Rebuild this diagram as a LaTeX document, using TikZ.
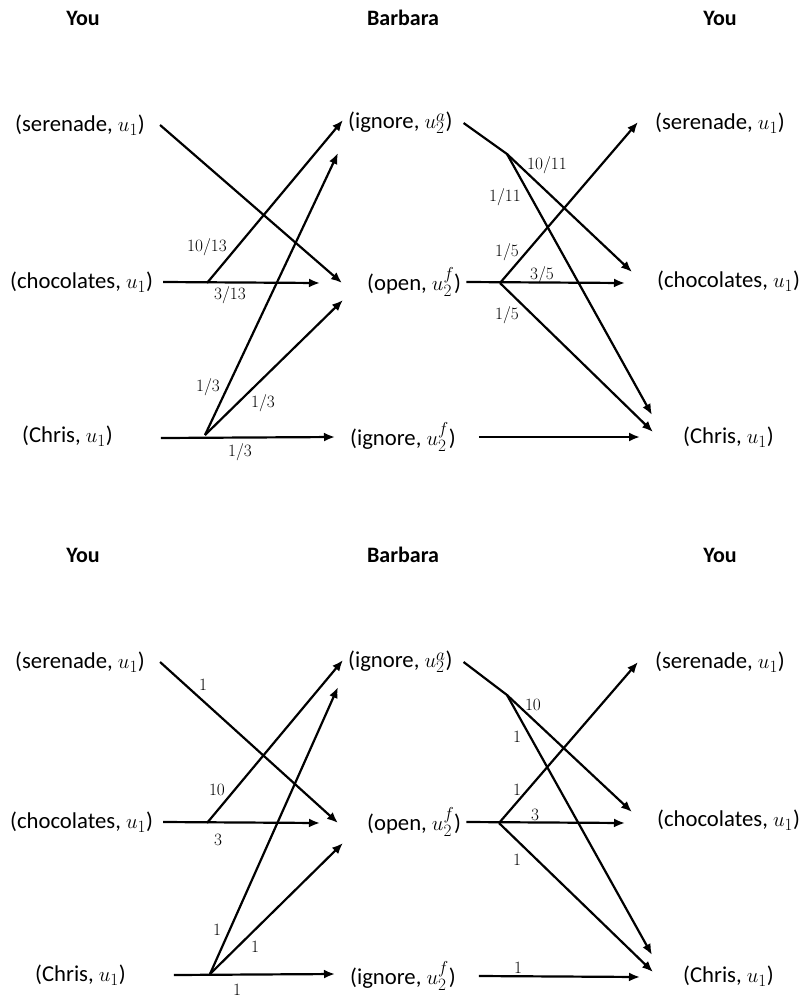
\documentclass[tikz,border=0pt]{standalone}
\usepackage{fontspec}
\setmainfont{Carlito}
\usepackage{tikz}
\usetikzlibrary{arrows.meta,positioning,calc}

\begin{document}
\begin{tikzpicture}[
  x=1pt,y=-1pt,
  state/.style={inner sep=0pt,anchor=west,font=\fontsize{22.7}{26}\selectfont},
  head/.style={inner sep=0pt,font=\fontsize{22}{26}\selectfont\bfseries},
  wt/.style={inner sep=0pt,font=\fontsize{17.5}{20}\selectfont},
  arrow/.style={-{Latex[length=11pt,width=9pt]},line width=2.2pt,black}
]
  \useasboundingbox (0,0) rectangle (806,997);

  % ===== Top panel =====
  \node[head] (you1) at (83,18) {You};
  \node[head] (barb1) at (403,18) {Barbara};
  \node[head] (you2) at (720,18) {You};

  % You (left)
  \node[state] (ls1) at (15,125) {(serenade, $u_1$)};
  \node[state] (lc1) at (10,282) {(chocolates, $u_1$)};
  \node[state] (lh1) at (22,436) {(Chris, $u_1$)};
  % Barbara
  \node[state] (mi1) at (348,123) {(ignore, $u_2^a$)};
  \node[state] (mo1) at (367,282) {(open, $u_2^f$)};
  \node[state] (mf1) at (350,437) {(ignore, $u_2^f$)};
  % You (right)
  \node[state] (rs1) at (655,123) {(serenade, $u_1$)};
  \node[state] (rc1) at (657,281) {(chocolates, $u_1$)};
  \node[state] (rh1) at (683,437) {(Chris, $u_1$)};

  % branch points and tips
  \coordinate (cb1) at (207,283);
  \coordinate (hb1) at (205,435);
  \coordinate (ab1) at (507,154);
  \coordinate (ob1) at (500,283);
  \coordinate (so1) at (342,283);
  \coordinate (cc1) at (320,283);
  \coordinate (ci1) at (343,120);
  \coordinate (hh1) at (335,437);
  \coordinate (hi1) at (338,153);
  \coordinate (ho1) at (343,300);
  \coordinate (ac1) at (632,272);
  \coordinate (ah1) at (652,415);
  \coordinate (oo1) at (625,283);
  \coordinate (os1) at (638,122);
  \coordinate (oh1) at (653,432);
  \coordinate (ff1) at (640,437);

  \draw[arrow] ([xshift=15pt]ls1.east) -- (so1);
  \draw[arrow] ([xshift=10pt]lc1.east) -- (cc1);
  \draw[arrow] (cb1) -- (ci1);
  \draw[arrow] ([xshift=48pt,yshift=-2pt]lh1.east) -- (hh1);
  \draw[arrow] (hb1) -- (hi1);
  \draw[arrow] (hb1) -- (ho1);

  \draw[arrow] ([xshift=11pt]mi1.east) -- (ab1) -- (ac1);
  \draw[arrow] (ab1) -- (ah1);
  \draw[arrow] ([xshift=5pt]mo1.east) -- (oo1);
  \draw[arrow] (ob1) -- (os1);
  \draw[arrow] (ob1) -- (oh1);
  \draw[arrow] ([xshift=23pt]mf1.east) -- (ff1);

  % weights
  \node[wt] (w1) at (207,247) {$10/13$};
  \node[wt] (w2) at (230,295) {$3/13$};
  \node[wt] (w3) at (208,387) {$1/3$};
  \node[wt] (w4) at (263,403) {$1/3$};
  \node[wt] (w5) at (240,452) {$1/3$};
  \node[wt] (w6) at (547,165) {$10/11$};
  \node[wt] (w7) at (505,197) {$1/11$};
  \node[wt] (w8) at (507,252) {$1/5$};
  \node[wt] (w9) at (542,275) {$3/5$};
  \node[wt] (w10) at (507,315) {$1/5$};

  % ===== Bottom panel =====
  \node[head] (you3) at (83,555) {You};
  \node[head] (barb2) at (403,555) {Barbara};
  \node[head] (you4) at (720,555) {You};

  % You (left)
  \node[state] (ls2) at (15,662) {(serenade, $u_1$)};
  \node[state] (lc2) at (10,822) {(chocolates, $u_1$)};
  \node[state] (lh2) at (35,975) {(Chris, $u_1$)};
  % Barbara
  \node[state] (mi2) at (348,662) {(ignore, $u_2^a$)};
  \node[state] (mo2) at (367,822) {(open, $u_2^f$)};
  \node[state] (mf2) at (350,976) {(ignore, $u_2^f$)};
  % You (right)
  \node[state] (rs2) at (655,662) {(serenade, $u_1$)};
  \node[state] (rc2) at (657,820) {(chocolates, $u_1$)};
  \node[state] (rh2) at (683,976) {(Chris, $u_1$)};

  % branch points and tips
  \coordinate (cb2) at (207,823);
  \coordinate (hb2) at (210,974);
  \coordinate (ab2) at (507,695);
  \coordinate (ob2) at (499,823);
  \coordinate (so2) at (338,823);
  \coordinate (cc2) at (320,823);
  \coordinate (ci2) at (343,660);
  \coordinate (hh2) at (335,974);
  \coordinate (hi2) at (338,687);
  \coordinate (ho2) at (343,843);
  \coordinate (ac2) at (632,812);
  \coordinate (ah2) at (652,955);
  \coordinate (oo2) at (625,823);
  \coordinate (os2) at (638,662);
  \coordinate (oh2) at (653,972);
  \coordinate (ff2) at (640,977);

  \draw[arrow] ([xshift=15pt]ls2.east) -- (so2);
  \draw[arrow] ([xshift=10pt]lc2.east) -- (cc2);
  \draw[arrow] (cb2) -- (ci2);
  \draw[arrow] ([xshift=48pt]lh2.east) -- (hh2);
  \draw[arrow] (hb2) -- (hi2);
  \draw[arrow] (hb2) -- (ho2);

  \draw[arrow] ([xshift=11pt]mi2.east) -- (ab2) -- (ac2);
  \draw[arrow] (ab2) -- (ah2);
  \draw[arrow] ([xshift=5pt]mo2.east) -- (oo2);
  \draw[arrow] (ob2) -- (os2);
  \draw[arrow] (ob2) -- (oh2);
  \draw[arrow] ([xshift=23pt]mf2.east) -- (ff2);

  % weights
  \node[wt] (v1) at (203,685) {$1$};
  \node[wt] (v2) at (217,790) {$10$};
  \node[wt] (v3) at (218,840) {$3$};
  \node[wt] (v4) at (217,930) {$1$};
  \node[wt] (v5) at (255,947) {$1$};
  \node[wt] (v6) at (237,990) {$1$};
  \node[wt] (v7) at (533,705) {$10$};
  \node[wt] (v8) at (517,737) {$1$};
  \node[wt] (v9) at (517,790) {$1$};
  \node[wt] (v10) at (535,815) {$3$};
  \node[wt] (v11) at (517,860) {$1$};
  \node[wt] (v12) at (518,968) {$1$};
\end{tikzpicture}
\end{document}
